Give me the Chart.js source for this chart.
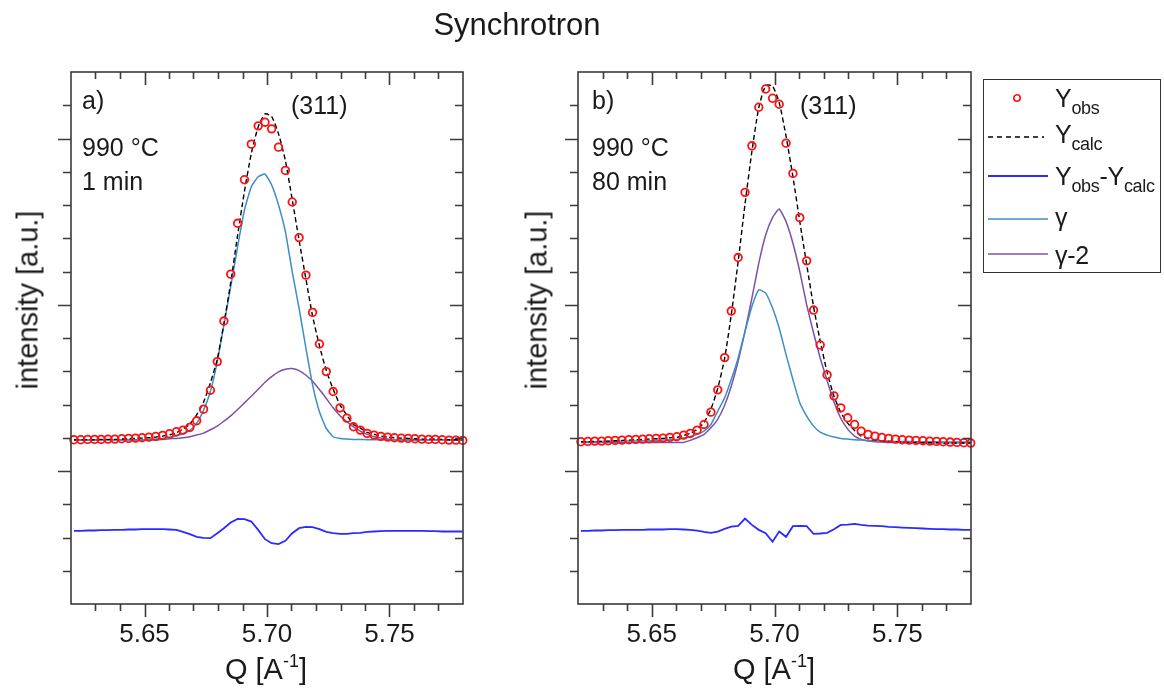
<!DOCTYPE html>
<html>
<head>
<meta charset="utf-8">
<script src="https://cdn.jsdelivr.net/npm/chart.js@4.4.0/dist/chart.umd.min.js"></script>
<style>
  body { margin: 0; background: #fff; font-family: "Liberation Sans", Arial, sans-serif; color: #1a1a1a; }
  #page { position: relative; width: 1164px; height: 693px; overflow: hidden; }
  canvas { position: absolute; left: 0; top: 0; }
  .txt { position: absolute; white-space: nowrap; line-height: 1; }
  .note { font-size: 25px; }
  .axt { font-size: 29px; }
  .ytitle { transform: translate(-50%, -50%) rotate(-90deg); }
  .xtitle { transform: translateX(-50%); }
  .xtitle sup { font-size: 18px; position: relative; top: -3px; vertical-align: top; }
  #legend { position: absolute; left: 983px; top: 79px; width: 178px; height: 194px;
            border: 1.5px solid #333; box-sizing: border-box; }
  .lg { position: absolute; white-space: nowrap; line-height: 1; font-size: 25px; letter-spacing: -0.3px; }
  .lg .sub { font-size: 18px; position: relative; top: 7px; }
  svg { position: absolute; overflow: visible; }
</style>
</head>
<body>
<div id="page">
  <canvas id="chartA" width="1164" height="693"></canvas>
  <canvas id="chartB" width="1164" height="693"></canvas>

  <div class="txt" style="left:517px; top:9px; font-size:31px; transform:translateX(-50%);">Synchrotron</div>

  <div class="txt axt ytitle" style="left:28px; top:300px;">intensity [a.u.]</div>
  <div class="txt axt ytitle" style="left:537px; top:300px;">intensity [a.u.]</div>
  <div class="txt axt xtitle" style="left:266px; top:655px;">Q [A<sup>-1</sup>]</div>
  <div class="txt axt xtitle" style="left:774px; top:655px;">Q [A<sup>-1</sup>]</div>

  <div class="txt note" style="left:82px; top:88px;">a)</div>
  <div class="txt note" style="left:82px; top:135px;">990 °C</div>
  <div class="txt note" style="left:82px; top:169px;">1 min</div>
  <div class="txt note" style="left:291px; top:93px;">(311)</div>

  <div class="txt note" style="left:592px; top:88px;">b)</div>
  <div class="txt note" style="left:592px; top:135px;">990 °C</div>
  <div class="txt note" style="left:592px; top:169px;">80 min</div>
  <div class="txt note" style="left:800px; top:93px;">(311)</div>

  <div id="legend"></div>
</div>

<script>
"use strict";

// Q grid shared by both panels (A^-1)
const qGrid = [5.6212, 5.6240, 5.6268, 5.6296, 5.6323, 5.6351, 5.6379, 5.6407, 5.6435, 5.6463,
    5.6490, 5.6518, 5.6546, 5.6574, 5.6602, 5.6630, 5.6657, 5.6685, 5.6713, 5.6741,
    5.6769, 5.6797, 5.6824, 5.6852, 5.6880, 5.6908, 5.6936, 5.6964, 5.6992, 5.7019,
    5.7047, 5.7075, 5.7103, 5.7131, 5.7159, 5.7186, 5.7214, 5.7242, 5.7270, 5.7298,
    5.7326, 5.7353, 5.7381, 5.7409, 5.7437, 5.7465, 5.7493, 5.7520, 5.7548, 5.7576,
    5.7604, 5.7632, 5.7660, 5.7687, 5.7715, 5.7743, 5.7771, 5.7799];

// panel a) 990 °C, 1 min
const obsA = [0.94, 0.94, 0.95, 0.95, 0.95, 0.96, 0.96, 0.97, 0.98, 0.99, 1.00, 1.02, 1.04, 1.07, 1.12,
    1.18, 1.23, 1.31, 1.51, 1.86, 2.43, 3.29, 4.51, 5.92, 7.45, 8.76, 9.83, 10.38, 10.49, 10.29,
    9.74, 9.04, 8.09, 7.02, 5.89, 4.77, 3.82, 2.99, 2.39, 1.90, 1.59, 1.33, 1.23, 1.13,
    1.08, 1.04, 1.02, 1.00, 0.99, 0.98, 0.97, 0.96, 0.95, 0.95, 0.94, 0.93, 0.93, 0.92];
const calcA = [0.94, 0.94, 0.94, 0.94, 0.95, 0.95, 0.95, 0.96, 0.97, 0.98, 0.99, 1.00, 1.02, 1.05, 1.09,
    1.15, 1.26, 1.41, 1.69, 2.07, 2.65, 3.36, 4.43, 5.67, 7.09, 8.41, 9.55, 10.35, 10.74, 10.66,
    10.14, 9.34, 8.16, 6.94, 5.77, 4.66, 3.77, 3.02, 2.46, 1.99, 1.68, 1.40, 1.29, 1.16,
    1.10, 1.05, 1.02, 1.00, 0.99, 0.98, 0.97, 0.96, 0.96, 0.96, 0.95, 0.94, 0.94, 0.93];
const diffA = [-1.80, -1.80, -1.79, -1.79, -1.78, -1.78, -1.77, -1.77, -1.76, -1.76, -1.75, -1.75, -1.75, -1.75, -1.76,
    -1.77, -1.83, -1.90, -1.98, -2.01, -2.02, -1.87, -1.72, -1.55, -1.44, -1.45, -1.52, -1.77, -2.05, -2.17,
    -2.20, -2.10, -1.87, -1.72, -1.68, -1.69, -1.75, -1.83, -1.87, -1.89, -1.89, -1.87, -1.86, -1.83,
    -1.82, -1.81, -1.80, -1.80, -1.80, -1.80, -1.80, -1.80, -1.81, -1.81, -1.82, -1.82, -1.82, -1.82];
const gammaA = [0.93, 0.93, 0.93, 0.93, 0.93, 0.93, 0.93, 0.93, 0.94, 0.94, 0.94, 0.95, 0.96, 0.98, 1.00,
    1.06, 1.12, 1.22, 1.43, 1.83, 2.39, 3.29, 4.39, 5.55, 6.75, 7.85, 8.55, 8.85, 8.93, 8.60,
    8.00, 7.20, 5.99, 4.89, 3.69, 2.59, 1.78, 1.28, 1.03, 0.98, 0.96, 0.95, 0.95, 0.94,
    0.94, 0.94, 0.94, 0.94, 0.94, 0.93, 0.93, 0.93, 0.93, 0.93, 0.93, 0.93, 0.93, 0.93];
const gamma2A = [0.93, 0.93, 0.93, 0.93, 0.93, 0.93, 0.93, 0.93, 0.93, 0.93, 0.93, 0.93, 0.93, 0.95, 0.97,
    0.98, 1.00, 1.03, 1.08, 1.14, 1.24, 1.35, 1.50, 1.66, 1.85, 2.05, 2.25, 2.46, 2.67, 2.84,
    2.98, 3.06, 3.08, 3.02, 2.88, 2.70, 2.45, 2.18, 1.90, 1.66, 1.48, 1.33, 1.20, 1.10,
    1.03, 0.99, 0.96, 0.94, 0.93, 0.93, 0.93, 0.93, 0.93, 0.93, 0.93, 0.93, 0.93, 0.93];

// panel b) 990 °C, 80 min
const obsB = [0.88, 0.89, 0.90, 0.90, 0.91, 0.92, 0.93, 0.94, 0.95, 0.96, 0.97, 0.98, 0.99, 1.01, 1.03,
    1.08, 1.13, 1.23, 1.40, 1.77, 2.44, 3.41, 4.81, 6.42, 8.38, 9.78, 10.94, 11.49, 11.21, 11.03,
    9.86, 8.95, 7.62, 6.32, 4.84, 3.79, 2.89, 2.26, 1.90, 1.60, 1.40, 1.20, 1.10, 1.05,
    1.01, 0.98, 0.96, 0.94, 0.93, 0.92, 0.91, 0.90, 0.89, 0.88, 0.87, 0.86, 0.85, 0.84];
const calcB = [0.88, 0.88, 0.89, 0.89, 0.90, 0.91, 0.92, 0.93, 0.94, 0.95, 0.96, 0.97, 0.98, 1.00, 1.01,
    1.07, 1.13, 1.25, 1.46, 1.86, 2.49, 3.39, 4.70, 6.30, 8.03, 9.61, 10.93, 11.59, 11.58, 11.08,
    10.07, 8.85, 7.50, 6.21, 4.95, 3.91, 2.98, 2.25, 1.76, 1.44, 1.22, 1.05, 0.97, 0.93,
    0.90, 0.89, 0.88, 0.87, 0.86, 0.86, 0.85, 0.85, 0.85, 0.84, 0.84, 0.84, 0.84, 0.84];
const diffB = [-1.80, -1.80, -1.79, -1.79, -1.78, -1.78, -1.77, -1.77, -1.77, -1.77, -1.76, -1.76, -1.76, -1.75, -1.75,
    -1.76, -1.77, -1.79, -1.83, -1.86, -1.82, -1.74, -1.67, -1.65, -1.43, -1.62, -1.77, -1.87, -2.13, -1.82,
    -1.98, -1.66, -1.65, -1.66, -1.89, -1.88, -1.86, -1.75, -1.62, -1.61, -1.59, -1.62, -1.64, -1.65,
    -1.66, -1.68, -1.69, -1.70, -1.71, -1.72, -1.73, -1.74, -1.75, -1.75, -1.76, -1.76, -1.77, -1.77];
const gammaB = [0.88, 0.88, 0.88, 0.89, 0.89, 0.89, 0.90, 0.90, 0.90, 0.91, 0.91, 0.92, 0.93, 0.94, 0.95,
    0.99, 1.04, 1.10, 1.20, 1.40, 1.80, 2.20, 2.75, 3.40, 4.20, 4.95, 5.45, 5.35, 4.90, 4.30,
    3.50, 2.75, 2.05, 1.65, 1.35, 1.17, 1.08, 1.02, 0.98, 0.96, 0.94, 0.93, 0.92, 0.91,
    0.90, 0.90, 0.89, 0.89, 0.89, 0.88, 0.88, 0.88, 0.88, 0.87, 0.87, 0.87, 0.87, 0.87];
const gamma2B = [0.86, 0.86, 0.86, 0.86, 0.86, 0.86, 0.86, 0.86, 0.86, 0.86, 0.86, 0.86, 0.86, 0.86, 0.86,
    0.86, 0.92, 1.00, 1.10, 1.30, 1.56, 1.98, 2.55, 3.30, 4.20, 5.20, 6.25, 7.10, 7.62, 7.88,
    7.50, 6.85, 6.00, 5.00, 4.15, 3.40, 2.72, 2.08, 1.58, 1.26, 1.05, 0.95, 0.90,
    0.88, 0.87, 0.86, 0.86, 0.85, 0.85, 0.85, 0.85, 0.85, 0.85, 0.85, 0.85, 0.85, 0.85, 0.85];

// axes
const xTickLabels = [5.65, 5.70, 5.75];
const xMinorTicks = [5.63, 5.64, 5.65, 5.66, 5.67, 5.68, 5.69, 5.70, 5.71, 5.72, 5.73, 5.74, 5.75, 5.76, 5.77];
const yMinorTicks = [-3, -2, -1, 0, 1, 2, 3, 4, 5, 6, 7, 8, 9, 10, 11];
const yMajorTicks = [0, 5, 10];

const FONT = '"Liberation Sans", Arial, sans-serif';
const AXIS_COLOR = '#3a3a3a';
const colObs = '#ff1010';
const colCalc = '#000000';
const colDiff = '#2b2bff';
const colGamma = '#3b8ec6';
const colGamma2 = '#7b52aa';

const W = 1164, H = 693;

// frame with Origin-like ticks: outward on left/bottom, inward on top/right
const frameTicks = {
    id: 'frameTicks',
    afterDraw(chart) {
        const {ctx, chartArea: a, scales: {x, y}} = chart;
        ctx.save();
        ctx.strokeStyle = AXIS_COLOR;
        ctx.lineWidth = 1.6;
        ctx.strokeRect(a.left, a.top, a.right - a.left, a.bottom - a.top);
        ctx.beginPath();
        xMinorTicks.forEach(v => {
            const px = Math.round(x.getPixelForValue(v)) + 0.5;
            const big = xTickLabels.includes(v);
            ctx.moveTo(px, a.bottom);
            ctx.lineTo(px, a.bottom + (big ? 13 : 7));
            ctx.moveTo(px, a.top);
            ctx.lineTo(px, a.top + (big ? 13 : 7));
        });
        yMinorTicks.forEach(v => {
            const py = Math.round(y.getPixelForValue(v)) + 0.5;
            const big = yMajorTicks.includes(v);
            ctx.moveTo(a.left, py);
            ctx.lineTo(a.left - (big ? 13 : 8), py);
            ctx.moveTo(a.right, py);
            ctx.lineTo(a.right - (big ? 13 : 8), py);
        });
        ctx.stroke();
        ctx.restore();
    }
};

function pts(arr) {
    return arr.map((v, i) => ({x: qGrid[i], y: v}));
}

function makePanel(id, area, obs, calc, diff, g1, g2) {
    const xHeight = 60;
    return new Chart(document.getElementById(id), {
        type: 'line',
        data: {
            datasets: [
                {label: 'Yobs', data: pts(obs), showLine: false, pointStyle: 'circle', pointRadius: 3.8,
                    pointBorderWidth: 1.8, pointBorderColor: colObs, pointBackgroundColor: 'rgba(0,0,0,0)', clip: false},
                {label: 'Ycalc', data: pts(calc), borderColor: colCalc, borderWidth: 1.4, borderDash: [5, 3],
                    pointRadius: 0, tension: 0.2},
                {label: 'Yobs-Ycalc', data: pts(diff), borderColor: colDiff, borderWidth: 1.8, pointRadius: 0},
                {label: 'gamma', data: pts(g1), borderColor: colGamma, borderWidth: 1.5, pointRadius: 0, tension: 0.15},
                {label: 'gamma-2', data: pts(g2), borderColor: colGamma2, borderWidth: 1.5, pointRadius: 0, tension: 0.15}
            ]
        },
        options: {
            responsive: false,
            animation: false,
            events: [],
            layout: {
                padding: {left: area.left, top: area.top, right: W - area.right, bottom: H - area.bottom - xHeight}
            },
            plugins: {legend: {display: false}, tooltip: {enabled: false}},
            scales: {
                x: {
                    type: 'linear', min: 5.62, max: 5.78,
                    grid: {display: false, drawTicks: false},
                    border: {display: false},
                    afterBuildTicks: s => { s.ticks = xTickLabels.map(v => ({value: v})); },
                    afterFit: s => { s.height = xHeight; },
                    ticks: {padding: 15, color: '#1a1a1a', maxRotation: 0, autoSkip: false,
                        font: {family: FONT, size: 26}, callback: v => Number(v).toFixed(2)}
                },
                y: {display: false, min: -4, max: 12}
            }
        },
        plugins: [frameTicks]
    });
}

makePanel('chartA', {left: 71, top: 72, right: 463, bottom: 604}, obsA, calcA, diffA, gammaA, gamma2A);
makePanel('chartB', {left: 578, top: 72, right: 971, bottom: 604}, obsB, calcB, diffB, gammaB, gamma2B);

// legend box (right of panel b)
const legendRows = [
    {html: 'Y<span class="sub">obs</span>', top: 85, mark: 'circle', my: 97},
    {html: 'Y<span class="sub">calc</span>', top: 121, mark: 'dash', my: 136},
    {html: 'Y<span class="sub">obs</span>-Y<span class="sub">calc</span>', top: 163, mark: 'diff', my: 175},
    {html: 'γ', top: 204, mark: 'g1', my: 218},
    {html: 'γ-2', top: 242, mark: 'g2', my: 253}
];
const legend = document.getElementById('legend');
const ox = 983, oy = 79;
legendRows.forEach(r => {
    const t = document.createElement('div');
    t.className = 'lg';
    t.style.left = (1054 - ox) + 'px';
    t.style.top = (r.top - oy) + 'px';
    t.innerHTML = r.html;
    legend.appendChild(t);

    const ns = 'http://www.w3.org/2000/svg';
    const svg = document.createElementNS(ns, 'svg');
    svg.setAttribute('width', 70);
    svg.setAttribute('height', 10);
    svg.style.left = (986 - ox) + 'px';
    svg.style.top = (r.my - 5 - oy) + 'px';
    let el;
    if (r.mark === 'circle') {
        el = document.createElementNS(ns, 'circle');
        el.setAttribute('cx', 30); el.setAttribute('cy', 5); el.setAttribute('r', 3.2);
        el.setAttribute('fill', 'none'); el.setAttribute('stroke', colObs); el.setAttribute('stroke-width', 1.6);
    } else {
        el = document.createElementNS(ns, 'line');
        el.setAttribute('x1', 1); el.setAttribute('y1', 5); el.setAttribute('x2', r.mark === 'dash' ? 57 : 61); el.setAttribute('y2', 5);
        const c = {dash: colCalc, diff: colDiff, g1: colGamma, g2: colGamma2}[r.mark];
        el.setAttribute('stroke', c);
        el.setAttribute('stroke-width', r.mark === 'diff' ? 2 : 1.6);
        if (r.mark === 'dash') el.setAttribute('stroke-dasharray', '5 4');
    }
    svg.appendChild(el);
    legend.appendChild(svg);
});
</script>
</body>
</html>
